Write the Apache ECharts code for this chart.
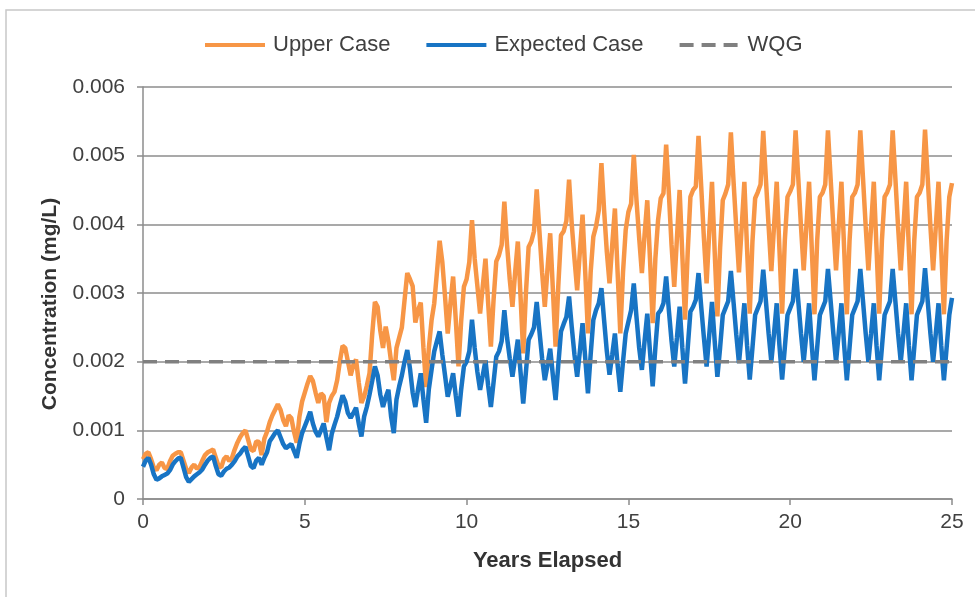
<!DOCTYPE html>
<html>
<head>
<meta charset="utf-8">
<title>Concentration over time</title>
<script src="https://cdn.jsdelivr.net/npm/echarts@6/dist/echarts.min.js"></script>
<style>
    html, body { margin: 0; padding: 0; background: #fff; }
    #main { width: 975px; height: 597px; }
</style>
</head>
<body>
<div id="main"></div>
<script>
// monthly values, in 0.001 mg/L, one row per year (Jan..Dec), last value = year 25
const upperCase = [
    0.58, 0.66, 0.68, 0.58, 0.46, 0.42, 0.50, 0.53, 0.45, 0.44, 0.55, 0.63,
    0.66, 0.68, 0.68, 0.56, 0.44, 0.38, 0.46, 0.50, 0.44, 0.47, 0.56, 0.64,
    0.68, 0.70, 0.72, 0.60, 0.48, 0.46, 0.58, 0.62, 0.55, 0.60, 0.72, 0.82,
    0.90, 0.96, 1.00, 0.86, 0.72, 0.70, 0.84, 0.83, 0.64, 0.88, 0.98, 1.12,
    1.22, 1.30, 1.38, 1.30, 1.15, 1.06, 1.22, 1.18, 0.98, 0.82, 1.20, 1.42,
    1.55, 1.68, 1.79, 1.72, 1.55, 1.40, 1.54, 1.50, 1.12, 1.40, 1.50, 1.56,
    1.73, 2.00, 2.23, 2.20, 2.00, 1.80, 1.95, 2.03, 1.70, 1.40, 1.49, 1.65,
    1.83, 2.40, 2.87, 2.80, 2.45, 2.20, 2.51, 2.30, 2.00, 1.73, 2.20, 2.35,
    2.50, 2.90, 3.29, 3.20, 3.10, 2.57, 2.75, 2.86, 2.20, 1.63, 2.20, 2.60,
    2.85, 3.30, 3.76, 3.45, 2.95, 2.41, 2.85, 3.24, 2.60, 1.93, 2.60, 3.09,
    3.20, 3.45, 4.06, 3.50, 3.10, 2.70, 3.10, 3.50, 2.85, 2.22, 2.90, 3.46,
    3.55, 3.70, 4.33, 3.70, 3.20, 2.80, 3.30, 3.75, 2.95, 2.12, 3.00, 3.67,
    3.75, 3.90, 4.51, 3.90, 3.30, 2.80, 3.35, 3.87, 3.05, 2.22, 3.10, 3.84,
    3.90, 4.05, 4.65, 4.00, 3.50, 3.04, 3.60, 4.14, 3.30, 2.41, 3.30, 3.82,
    3.97, 4.20, 4.89, 4.20, 3.60, 3.14, 3.70, 4.23, 3.30, 2.41, 3.30, 3.92,
    4.18, 4.30, 5.01, 4.35, 3.80, 3.29, 3.85, 4.35, 3.50, 2.56, 3.50, 4.06,
    4.38, 4.45, 5.16, 4.45, 3.70, 3.09, 3.80, 4.50, 3.55, 2.61, 3.60, 4.40,
    4.50, 4.55, 5.29, 4.55, 3.80, 3.14, 3.90, 4.62, 3.60, 2.66, 3.65, 4.35,
    4.45, 4.58, 5.34, 4.62, 3.95, 3.30, 3.95, 4.62, 3.65, 2.70, 3.75, 4.38,
    4.47, 4.58, 5.36, 4.65, 3.97, 3.32, 3.97, 4.62, 3.65, 2.70, 3.76, 4.40,
    4.48, 4.58, 5.37, 4.67, 3.97, 3.33, 3.97, 4.62, 3.65, 2.69, 3.76, 4.40,
    4.46, 4.58, 5.37, 4.66, 3.97, 3.33, 3.98, 4.62, 3.65, 2.69, 3.76, 4.40,
    4.46, 4.58, 5.37, 4.67, 3.97, 3.33, 3.97, 4.62, 3.66, 2.70, 3.76, 4.40,
    4.47, 4.58, 5.37, 4.67, 3.97, 3.33, 3.97, 4.62, 3.65, 2.69, 3.76, 4.40,
    4.46, 4.58, 5.38, 4.67, 3.97, 3.33, 3.97, 4.62, 3.65, 2.69, 3.76, 4.40,
    4.60
]

const expectedCase = [
    0.47, 0.56, 0.60, 0.50, 0.36, 0.28, 0.30, 0.33, 0.35, 0.37, 0.42, 0.50,
    0.55, 0.59, 0.60, 0.46, 0.32, 0.25, 0.29, 0.33, 0.36, 0.39, 0.43, 0.50,
    0.56, 0.60, 0.62, 0.48, 0.36, 0.34, 0.40, 0.44, 0.46, 0.50, 0.55, 0.62,
    0.66, 0.72, 0.76, 0.62, 0.48, 0.45, 0.56, 0.60, 0.50, 0.60, 0.68, 0.84,
    0.90, 0.96, 1.00, 0.90, 0.80, 0.74, 0.77, 0.80, 0.70, 0.60, 0.80, 0.96,
    1.06, 1.16, 1.27, 1.10, 0.98, 0.91, 1.00, 1.10, 0.90, 0.71, 0.95, 1.08,
    1.20, 1.36, 1.51, 1.42, 1.25, 1.18, 1.25, 1.33, 1.10, 0.91, 1.20, 1.34,
    1.52, 1.72, 1.93, 1.80, 1.52, 1.34, 1.48, 1.59, 1.20, 0.96, 1.45, 1.64,
    1.80, 2.00, 2.17, 1.90, 1.55, 1.34, 1.60, 1.83, 1.45, 1.11, 1.60, 1.88,
    2.15, 2.30, 2.44, 2.10, 1.80, 1.49, 1.65, 1.83, 1.50, 1.20, 1.60, 1.93,
    2.00, 2.15, 2.61, 2.20, 1.85, 1.59, 1.80, 2.02, 1.65, 1.34, 1.70, 2.07,
    2.15, 2.30, 2.75, 2.35, 2.05, 1.78, 2.05, 2.32, 1.85, 1.39, 1.85, 2.32,
    2.40, 2.50, 2.87, 2.45, 2.05, 1.73, 1.95, 2.19, 1.80, 1.44, 1.95, 2.44,
    2.55, 2.65, 2.95, 2.50, 2.10, 1.78, 2.15, 2.56, 2.05, 1.54, 2.10, 2.61,
    2.75, 2.85, 3.07, 2.60, 2.15, 1.81, 2.10, 2.41, 1.95, 1.56, 2.00, 2.41,
    2.58, 2.75, 3.14, 2.65, 2.20, 1.88, 2.30, 2.70, 2.15, 1.64, 2.20, 2.70,
    2.75, 2.85, 3.24, 2.75, 2.30, 1.93, 2.35, 2.80, 2.20, 1.68, 2.20, 2.73,
    2.80, 2.90, 3.29, 2.80, 2.35, 1.93, 2.40, 2.87, 2.30, 1.78, 2.20, 2.68,
    2.78, 2.88, 3.32, 2.86, 2.40, 1.98, 2.41, 2.85, 2.24, 1.74, 2.20, 2.68,
    2.78, 2.88, 3.34, 2.88, 2.41, 2.00, 2.41, 2.85, 2.24, 1.74, 2.20, 2.68,
    2.78, 2.88, 3.35, 2.88, 2.41, 2.00, 2.41, 2.85, 2.24, 1.73, 2.20, 2.68,
    2.78, 2.88, 3.35, 2.88, 2.41, 2.00, 2.42, 2.85, 2.24, 1.73, 2.20, 2.68,
    2.78, 2.88, 3.35, 2.88, 2.41, 2.00, 2.41, 2.85, 2.24, 1.73, 2.20, 2.68,
    2.78, 2.88, 3.35, 2.88, 2.41, 2.00, 2.41, 2.85, 2.24, 1.73, 2.20, 2.68,
    2.78, 2.88, 3.36, 2.88, 2.41, 2.00, 2.41, 2.85, 2.24, 1.73, 2.20, 2.68,
    2.93
]

const wqgLevel = 0.002
const yearRange = [0, 25]
const monthsPerYear = 12

// month index -> years elapsed, 0.001 mg/L -> mg/L
const toPoints = arr => arr.map((v, i) => [i / monthsPerYear, v / 1000])

const font = 'Liberation Sans, Arial, sans-serif'

const myChart = echarts.init(document.getElementById('main'))

const option = {
    animation: false,
    backgroundColor: '#fff',
    textStyle: {
        fontFamily: font,
    },
    graphic: [
        {
            type: 'rect',
            shape: { x: 6, y: 10, width: 1000, height: 1000 },
            style: { fill: 'none', stroke: '#c8c8c8', lineWidth: 1.5 },
            silent: true,
        },
    ],
    legend: {
        top: 29,
        left: 198,
        itemWidth: 60,
        itemHeight: 14,
        itemGap: 34,
        itemStyle: {
            opacity: 0,
        },
        lineStyle: {
            width: 4,
        },
        textStyle: {
            fontSize: 22,
            color: '#404040',
            fontFamily: font,
            padding: [0, 0, 0, 3],
        },
        data: ['Upper Case', 'Expected Case', 'WQG'],
    },
    grid: {
        left: 143,
        right: 23,
        top: 87,
        bottom: 98,
    },
    xAxis: {
        type: 'value',
        min: yearRange[0],
        max: yearRange[1],
        interval: 5,
        name: 'Years Elapsed',
        nameLocation: 'middle',
        nameGap: 51,
        nameTextStyle: {
            fontSize: 22,
            fontWeight: 'bold',
            color: '#333',
        },
        axisLine: {
            show: true,
            lineStyle: { color: '#8c8c8c', width: 1.5 },
        },
        axisTick: {
            show: true,
            length: 6,
            lineStyle: { color: '#8c8c8c', width: 1.5 },
        },
        axisLabel: {
            fontSize: 21,
            color: '#404040',
            margin: 13,
        },
        splitLine: { show: false },
    },
    yAxis: {
        type: 'value',
        min: 0,
        max: 0.006,
        interval: 0.001,
        name: 'Concentration (mg/L)',
        nameLocation: 'middle',
        nameGap: 82,
        nameTextStyle: {
            fontSize: 21,
            fontWeight: 'bold',
            color: '#333',
            padding: [0, 22, 0, 0],
        },
        axisLine: {
            show: true,
            lineStyle: { color: '#8c8c8c', width: 1.5 },
        },
        axisTick: {
            show: true,
            length: 6,
            lineStyle: { color: '#8c8c8c', width: 1.5 },
        },
        axisLabel: {
            fontSize: 21,
            color: '#404040',
            margin: 18,
        },
        splitLine: {
            lineStyle: { color: '#8c8c8c', width: 1.5 },
        },
    },
    series: [
        {
            name: 'Upper Case',
            type: 'line',
            data: toPoints(upperCase),
            symbol: 'none',
            color: '#F79646',
            lineStyle: { width: 4.5, color: '#F79646' },
        },
        {
            name: 'Expected Case',
            type: 'line',
            data: toPoints(expectedCase),
            symbol: 'none',
            color: '#1874C4',
            lineStyle: { width: 4.5, color: '#1874C4' },
        },
        {
            name: 'WQG',
            type: 'line',
            data: yearRange.map(x => [x, wqgLevel]),
            symbol: 'none',
            color: '#808080',
            lineStyle: { width: 3.5, color: '#808080', type: [14, 8] },
        },
    ],
}

myChart.setOption(option)
</script>
</body>
</html>
